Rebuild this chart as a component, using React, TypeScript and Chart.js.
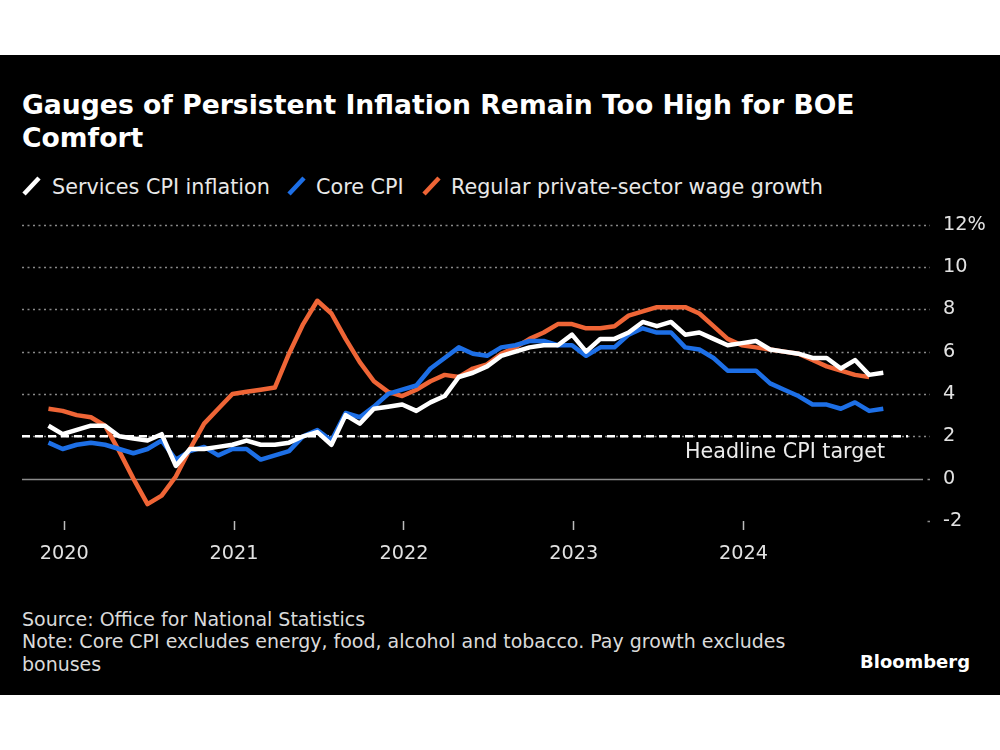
import React, { useEffect, useRef } from "react";
import { Chart, registerables } from "chart.js";

Chart.register(...registerables);

// ---- Data (monthly, Nov 2019 .. Oct 2024) ----
const monthNames = ["Jan", "Feb", "Mar", "Apr", "May", "Jun", "Jul", "Aug", "Sep", "Oct", "Nov", "Dec"];
const months: string[] = [];
for (let i = 0; i < 60; i++) {
  const m = (10 + i) % 12;
  const y = 2019 + Math.floor((10 + i) / 12);
  months.push(`${monthNames[m]} ${y}`);
}

const servicesCPI = [
  2.5, 2.1, 2.3, 2.5, 2.5, 2.0, 1.9, 1.8, 2.1, 0.6,
  1.4, 1.4, 1.5, 1.6, 1.8, 1.6, 1.6, 1.7, 2.0, 2.2,
  1.6, 3.0, 2.6, 3.3, 3.4, 3.5, 3.2, 3.6, 3.9, 4.8,
  5.0, 5.3, 5.8, 6.0, 6.2, 6.3, 6.3, 6.8, 6.0, 6.6,
  6.6, 6.9, 7.4, 7.2, 7.4, 6.8, 6.9, 6.6, 6.3, 6.4,
  6.5, 6.1, 6.0, 5.9, 5.7, 5.7, 5.2, 5.6, 4.9, 5.0,
];

const coreCPI = [
  1.7, 1.4, 1.6, 1.7, 1.6, 1.4, 1.2, 1.4, 1.8, 0.9,
  1.3, 1.5, 1.1, 1.4, 1.4, 0.9, 1.1, 1.3, 2.0, 2.3,
  1.8, 3.1, 2.9, 3.4, 4.0, 4.2, 4.4, 5.2, 5.7, 6.2,
  5.9, 5.8, 6.2, 6.3, 6.5, 6.5, 6.3, 6.3, 5.8, 6.2,
  6.2, 6.8, 7.1, 6.9, 6.9, 6.2, 6.1, 5.7, 5.1, 5.1,
  5.1, 4.5, 4.2, 3.9, 3.5, 3.5, 3.3, 3.6, 3.2, 3.3,
];

const wageGrowth: (number | null)[] = [
  3.3, 3.2, 3.0, 2.9, 2.5, 1.3, 0.0, -1.2, -0.8, 0.1,
  1.4, 2.6, 3.3, 4.0, 4.1, 4.2, 4.3, 5.9, 7.3, 8.4,
  7.8, 6.6, 5.5, 4.6, 4.1, 3.9, 4.2, 4.6, 4.9, 4.8,
  5.2, 5.4, 5.9, 6.2, 6.6, 6.9, 7.3, 7.3, 7.1, 7.1,
  7.2, 7.7, 7.9, 8.1, 8.1, 8.1, 7.8, 7.2, 6.6, 6.3,
  6.2, 6.1, 6.0, 5.9, 5.6, 5.3, 5.1, 4.9, 4.8, null,
];

const yearLabels = [2020, 2021, 2022, 2023, 2024];
const yTickValues = [-2, 0, 2, 4, 6, 8, 10, 12];
const targetRate = 2;

const titleLines = ["Gauges of Persistent Inflation Remain Too High for BOE", "Comfort"];
const legendItems = ["Services CPI inflation", "Core CPI", "Regular private-sector wage growth"];
const footerLines = [
  "Source: Office for National Statistics",
  "Note: Core CPI excludes energy, food, alcohol and tobacco. Pay growth excludes",
  "bonuses",
];
const targetLabel = "Headline CPI target";
const brand = "Bloomberg";

const WHITE = "#ffffff";
const BLUE = "#1d6fe6";
const ORANGE = "#ef6536";
const FAMILY = "'DejaVu Sans'";
const FONT = "'DejaVu Sans', 'Noto Sans', sans-serif";

// font-size fitting helper (so text widths match the reference layout)
let measureCtx: CanvasRenderingContext2D | null = null;
function fitSize(text: string, target: number, weight = "400", fallback = 20) {
  try {
    if (!measureCtx) measureCtx = document.createElement("canvas").getContext("2d");
    if (!measureCtx) return fallback;
    measureCtx.font = `${weight} 100px ${FONT}`;
    const w = measureCtx.measureText(text).width;
    if (!w) return fallback;
    return (100 * target) / w;
  } catch (e) {
    return fallback;
  }
}
// DejaVu Sans: ascent .928, descent .236 -> baseline offset within line box
const topFor = (baseline: number, lineH: number, size: number) => baseline - lineH / 2 - 0.346 * size;

// year tick positions: end of December of the previous year (month-end plotting)
const yearTickPos = yearLabels.map((yr) => months.indexOf(`Dec ${yr - 1}`) + 0.12);

const toPoints = (arr: (number | null)[]) => arr.map((v, i) => ({ x: i, y: v }));

export default function App() {
  const canvasRef = useRef<HTMLCanvasElement | null>(null);

  const titleSize = Math.min(28, fitSize(titleLines[0], 833, "700", 25));
  const legendSize = fitSize(legendItems[2], 372, "400", 18);
  const footerSize = fitSize(footerLines[1], 764, "400", 17.5);
  const brandSize = fitSize(brand, 110, "700", 19);
  const axisSize = fitSize("2020", 49, "400", 19);
  const targetSize = fitSize(targetLabel, 200, "400", 18);

  useEffect(() => {
    if (!canvasRef.current) return;

    const gridPlugin = {
      id: "customGrid",
      beforeDatasetsDraw(chart: any) {
        const { ctx, chartArea, scales } = chart;
        const { left, right } = chartArea;
        const y = scales.y;
        ctx.save();
        yTickValues.forEach((v) => {
          const py = Math.round(y.getPixelForValue(v)) + 0.5;
          ctx.strokeStyle = "#8a8a8a";
          ctx.lineWidth = 1.5;
          if (v === 0) {
            ctx.setLineDash([]);
            ctx.beginPath();
            ctx.moveTo(left, py);
            ctx.lineTo(right - 7, py);
            ctx.stroke();
            ctx.beginPath();
            ctx.moveTo(right - 2.5, py);
            ctx.lineTo(right, py);
            ctx.stroke();
          } else if (v === -2) {
            ctx.setLineDash([]);
            ctx.beginPath();
            ctx.moveTo(right - 2.5, py);
            ctx.lineTo(right, py);
            ctx.stroke();
          } else {
            ctx.setLineDash([2, 3.5]);
            ctx.beginPath();
            ctx.moveTo(left, py);
            ctx.lineTo(right, py);
            ctx.stroke();
          }
        });
        const ty = y.getPixelForValue(targetRate);
        ctx.setLineDash([8, 5]);
        ctx.strokeStyle = "#ffffff";
        ctx.lineWidth = 2.5;
        ctx.beginPath();
        ctx.moveTo(left, ty);
        ctx.lineTo(right - 22, ty);
        ctx.stroke();
        ctx.restore();
      },
      afterDraw(chart: any) {
        const { ctx } = chart;
        ctx.save();
        ctx.font = `${targetSize}px ${FONT}`;
        ctx.fillStyle = "#ececec";
        ctx.textAlign = "right";
        ctx.textBaseline = "alphabetic";
        ctx.fillText(targetLabel, 885, 258);
        ctx.restore();
      },
    };

    const chart = new Chart(canvasRef.current, {
      type: "line",
      data: {
        datasets: [
          {
            label: legendItems[0],
            data: toPoints(servicesCPI),
            borderColor: WHITE,
            borderWidth: 4.5,
            pointRadius: 0,
            tension: 0,
            borderJoinStyle: "round",
          },
          {
            label: legendItems[1],
            data: toPoints(coreCPI),
            borderColor: BLUE,
            borderWidth: 4.5,
            pointRadius: 0,
            tension: 0,
            borderJoinStyle: "round",
          },
          {
            label: legendItems[2],
            data: toPoints(wageGrowth),
            borderColor: ORANGE,
            borderWidth: 4.5,
            pointRadius: 0,
            tension: 0,
            borderJoinStyle: "round",
          },
        ],
      },
      options: {
        animation: false,
        responsive: false,
        devicePixelRatio: 1,
        layout: { padding: { left: 22, top: 16, right: 0, bottom: 0 } },
        plugins: {
          legend: { display: false },
          tooltip: { enabled: false },
          title: { display: false },
        },
        scales: {
          x: {
            type: "linear",
            min: -1.87,
            max: 62.3,
            afterBuildTicks: (scale: any) => {
              scale.ticks = yearTickPos.map((p) => ({ value: p }));
            },
            afterFit: (scale: any) => {
              scale.height = 59;
            },
            ticks: {
              autoSkip: false,
              maxRotation: 0,
              color: "#e2e2e2",
              font: { family: FAMILY, size: axisSize },
              padding: 12,
              callback: (value: any) => {
                const idx = yearTickPos.findIndex((p) => Math.abs(p - value) < 0.01);
                return idx >= 0 ? String(yearLabels[idx]) : "";
              },
            },
            grid: {
              drawOnChartArea: false,
              drawTicks: true,
              tickLength: 9,
              tickColor: "#bdbdbd",
              tickWidth: 1.5,
            },
            border: { display: false },
          },
          y: {
            position: "right",
            min: -2,
            max: 12,
            afterBuildTicks: (scale: any) => {
              scale.ticks = yTickValues.map((v) => ({ value: v }));
            },
            afterFit: (scale: any) => {
              scale.width = 70;
            },
            ticks: {
              color: "#e2e2e2",
              font: { family: FAMILY, size: axisSize },
              padding: 13,
              crossAlign: "near",
              callback: (value: any) => (value === 12 ? "12%" : String(value)),
            },
            grid: { display: false, drawTicks: false },
            border: { display: false },
          },
        },
      } as any,
      plugins: [gridPlugin],
    });
    return () => chart.destroy();
  }, []);

  const legendTop = topFor(194, 28, legendSize);
  const legendText = (left: number, text: string) => (
    <div
      style={{
        position: "absolute",
        left,
        top: legendTop,
        color: "#e8e8e8",
        fontSize: legendSize,
        lineHeight: "28px",
        whiteSpace: "nowrap",
      }}
    >
      {text}
    </div>
  );
  const legendMark = (left: number, color: string) => (
    <svg width={22} height={22} style={{ position: "absolute", left, top: 175 }}>
      <line x1={3} y1={19} x2={18} y2={3} stroke={color} strokeWidth={4.5} />
    </svg>
  );

  return (
    <div
      style={{
        position: "absolute",
        left: 0,
        top: 0,
        width: 1000,
        height: 750,
        background: "#ffffff",
        overflow: "hidden",
        fontFamily: FONT,
      }}
    >
      <div style={{ position: "absolute", left: 0, top: 55, width: 1000, height: 640, background: "#000000" }} />
      <div
        style={{
          position: "absolute",
          left: 22,
          top: topFor(113.3, 33, titleSize),
          width: 960,
          color: "#ffffff",
          fontWeight: 700,
          fontSize: titleSize,
          lineHeight: "33px",
          whiteSpace: "nowrap",
        }}
      >
        {titleLines[0]}
        <br />
        {titleLines[1]}
      </div>

      {legendMark(21, WHITE)}
      {legendText(52, legendItems[0])}
      {legendMark(286, BLUE)}
      {legendText(316, legendItems[1])}
      {legendMark(421, ORANGE)}
      {legendText(451, legendItems[2])}

      <canvas
        ref={canvasRef}
        width={1000}
        height={380}
        style={{ position: "absolute", left: 0, top: 200, width: 1000, height: 380, display: "block" }}
      />

      <div
        style={{
          position: "absolute",
          left: 22,
          top: topFor(625.5, 22.5, footerSize),
          color: "#dadada",
          fontSize: footerSize,
          lineHeight: "22.5px",
          whiteSpace: "nowrap",
        }}
      >
        {footerLines[0]}
        <br />
        {footerLines[1]}
        <br />
        {footerLines[2]}
      </div>
      <div
        style={{
          position: "absolute",
          right: 30,
          top: topFor(668, 24, brandSize),
          color: "#ffffff",
          fontWeight: 700,
          fontSize: brandSize,
          lineHeight: "24px",
          whiteSpace: "nowrap",
        }}
      >
        {brand}
      </div>
    </div>
  );
}
